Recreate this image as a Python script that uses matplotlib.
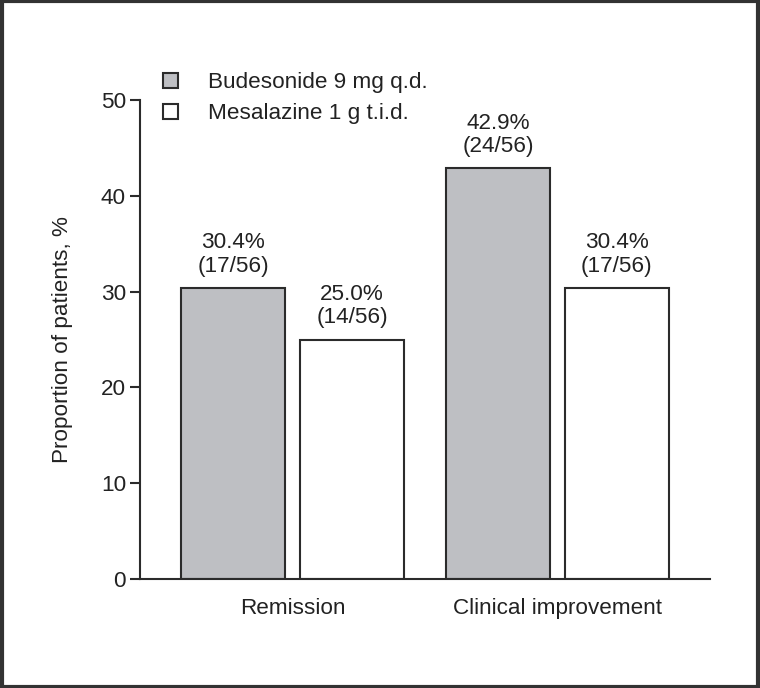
import matplotlib.pyplot as plt
from matplotlib.patches import Patch, Rectangle
import numpy as np

plt.rcParams['font.family'] = ['Liberation Sans', 'DejaVu Sans']

categories = ['Remission', 'Clinical improvement']
budesonide = [30.4, 42.9]
mesalazine = [25.0, 30.4]
bud_labels = ['30.4%\n(17/56)', '42.9%\n(24/56)']
mes_labels = ['25.0%\n(14/56)', '30.4%\n(17/56)']
series_names = ['Budesonide 9 mg q.d.', 'Mesalazine 1 g t.i.d.']

edge = '#2b2b2b'
gray = '#bebfc3'

fig = plt.figure(figsize=(7.6, 6.88), dpi=100)
ax = fig.add_axes([140 / 760, 1 - 579 / 688, (710 - 140) / 760, (579 - 100) / 688])

x = np.arange(len(categories))
w = 0.392
off = 0.2245

b1 = ax.bar(x - off, budesonide, w, color=gray, edgecolor=edge, linewidth=1.5)
b2 = ax.bar(x + off, mesalazine, w, color='white', edgecolor=edge, linewidth=1.5)

# подписи над столбиками
for bars, labs in [(b1, bud_labels), (b2, mes_labels)]:
    for r, t in zip(bars, labs):
        ax.annotate(t, (r.get_x() + r.get_width() / 2, r.get_height()),
                    xytext=(0, 8), textcoords='offset points',
                    ha='center', va='bottom', fontsize=16.2,
                    color='#222222', linespacing=1.15)

ax.set_xlim(-0.577, 1.577)
ax.set_ylim(0, 50)
ax.set_yticks([0, 10, 20, 30, 40, 50])
ax.set_xticks(x)
ax.set_xticklabels(categories)
ax.tick_params(axis='x', length=0, pad=13.5, labelsize=16.2, labelcolor='#222222')
ax.tick_params(axis='y', length=7, width=1.5, pad=3, labelsize=16.2,
               labelcolor='#222222', color=edge)

for s in ['top', 'right']:
    ax.spines[s].set_visible(False)
for s in ['left', 'bottom']:
    ax.spines[s].set_linewidth(1.5)
    ax.spines[s].set_color(edge)

ax.set_ylabel('Proportion of patients, %', fontsize=16.2, color='#222222', labelpad=20)

handles = [Patch(facecolor=gray, edgecolor=edge, linewidth=1.5),
           Patch(facecolor='white', edgecolor=edge, linewidth=1.5)]
ax.legend(handles, series_names, loc='upper left',
          bbox_to_anchor=(163 / 760, 1 - 72 / 688), bbox_transform=fig.transFigure,
          frameon=False, fontsize=16.2, handlelength=0.65, handleheight=0.65,
          handletextpad=1.35, labelspacing=0.45, borderpad=0, borderaxespad=0,
          labelcolor='#222222')

# рамка вокруг рисунка
fig.patches.append(Rectangle((0.002, 0.002), 0.996, 0.996, transform=fig.transFigure,
                             fill=False, edgecolor='#333333', linewidth=3))

fig.savefig('out.png', dpi=100)
